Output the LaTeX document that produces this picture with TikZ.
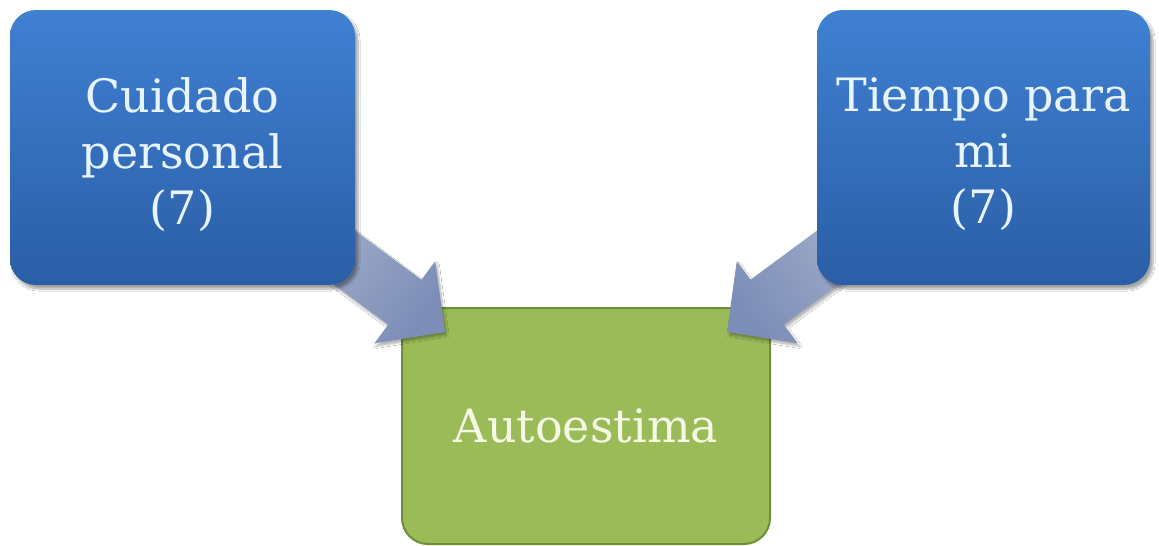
\documentclass[tikz,border=0pt]{standalone}
\usepackage{fontspec}
\setmainfont{DejaVu Serif}
\usetikzlibrary{calc,shadows.blur}
\definecolor{boxtop}{RGB}{64,128,210}
\definecolor{boxbot}{RGB}{42,94,166}
\definecolor{boxtext}{RGB}{232,244,255}
\definecolor{goalfill}{RGB}{155,187,89}
\definecolor{goalline}{RGB}{112,142,56}
\definecolor{goaltext}{RGB}{244,250,228}
\definecolor{arrowlight}{RGB}{170,180,204}
\definecolor{arrowdark}{RGB}{124,142,184}
\tikzset{
  x=1pt, y=-1pt,
  factor/.style={rounded corners=26pt, top color=boxtop, bottom color=boxbot,
    draw=none, inner sep=0pt,
    blur shadow={shadow xshift=3pt, shadow yshift=-4pt, shadow blur steps=8, shadow opacity=35}},
  factortext/.style={text=boxtext, align=center, inner sep=0pt,
    font=\fontsize{46}{56}\selectfont},
  goal/.style={rounded corners=26pt, fill=goalfill, draw=goalline, line width=2pt,
    text=goaltext, align=center, inner sep=0pt,
    font=\fontsize{46}{56}\selectfont},
  flow/.style={blur shadow={shadow xshift=2pt, shadow yshift=-3pt, shadow blur steps=6, shadow opacity=30}},
}
\begin{document}
\begin{tikzpicture}
\useasboundingbox (0,0) rectangle (1159,546);
\fill[white] (0,0) rectangle (1159,546);

% target box
\node[goal, minimum width=368pt, minimum height=236pt] (auto) at (586,426) {Autoestima};

% block arrows: tail hidden under the source box, tip over the target corner
\coordinate (tipL) at (445,332);
\coordinate (tailL) at (284.2,213);
\coordinate (tipR) at (727,332);
\coordinate (tailR) at (887.8,213);
\foreach \t/\s/\ang in {tipL/tailL/-36.5, tipR/tailR/-143.5}{
  \coordinate (base) at ($(\t)!50pt!(\s)$);
  \path[flow, shading=axis, left color=arrowlight, right color=arrowdark, shading angle=\ang+90]
    ($(\s)!28pt!90:(\t)$) -- ($(base)!28pt!-90:(\s)$) -- ($(base)!51pt!-90:(\s)$) -- (\t)
    -- ($(base)!51pt!90:(\s)$) -- ($(base)!28pt!90:(\s)$) -- ($(\s)!28pt!-90:(\t)$) -- cycle;
}

% source boxes
\node[factor, minimum width=345pt, minimum height=275pt] (care) at (182.5,147.5) {};
\node[factortext] (careText) at ([yshift=-7pt]care.center) {Cuidado\\personal\\(7)};
\node[factor, minimum width=333pt, minimum height=275pt] (time) at (983.5,147.5) {};
\node[factortext] (timeText) at ([yshift=-7pt]time.center) {Tiempo para\\mi\\(7)};
\end{tikzpicture}
\end{document}
